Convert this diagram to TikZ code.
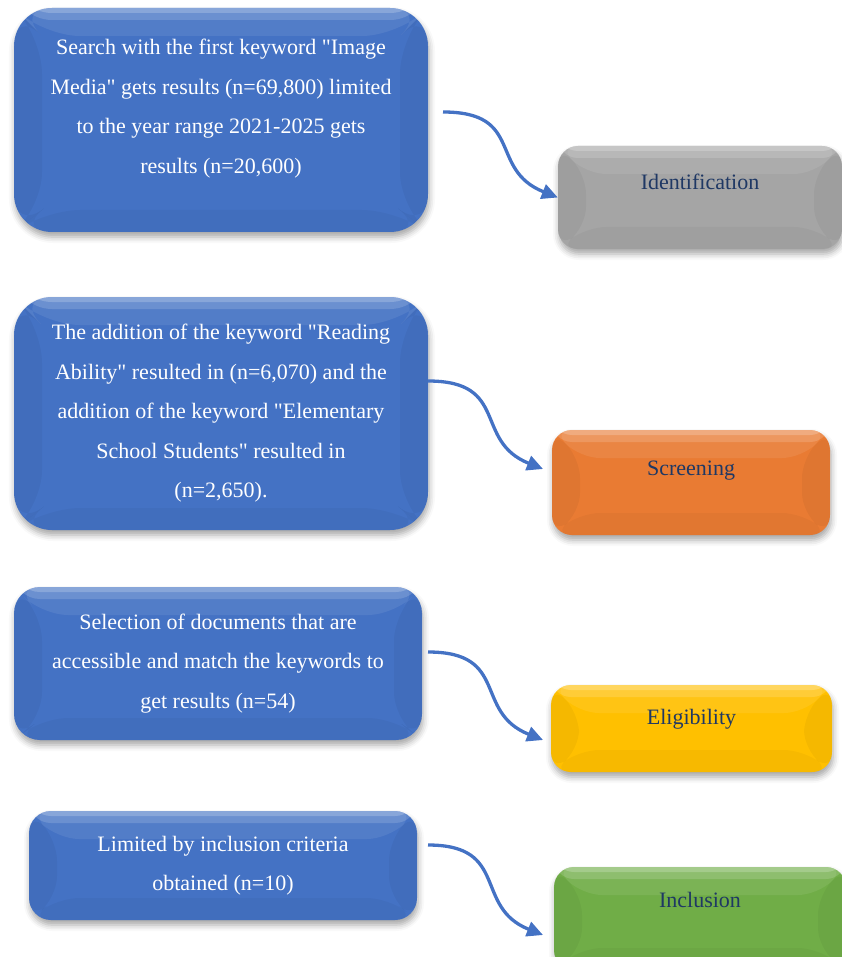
\documentclass[tikz,border=0pt]{standalone}
\usepackage{fontspec}
\setmainfont{Liberation Serif}[Ligatures=TeXOff]
\usetikzlibrary{arrows.meta,shadows.blur}

\definecolor{boxblue}{HTML}{4472C4}
\definecolor{arrowblue}{HTML}{4472C4}
\definecolor{stagegray}{HTML}{A5A5A5}
\definecolor{stageorange}{HTML}{E97B33}
\definecolor{stageyellow}{HTML}{FFC000}
\definecolor{stagegreen}{HTML}{70AD47}
\definecolor{labelnavy}{HTML}{1F3864}

\tikzset{
  bevel/.style={path picture={
      \coordinate (nw) at (path picture bounding box.north west);
      \coordinate (ne) at (path picture bounding box.north east);
      \coordinate (sw) at (path picture bounding box.south west);
      \coordinate (se) at (path picture bounding box.south east);
      \fill[white,opacity=.08] (nw) -- ([shift={(28pt,-28pt)}]nw) -- ([shift={(-28pt,-28pt)}]ne) -- (ne) -- cycle;
      \fill[black,opacity=.03] (sw) -- ([shift={(28pt,22pt)}]sw) -- ([shift={(-28pt,22pt)}]se) -- (se) -- cycle;
      \fill[black,opacity=.04] (nw) -- ([shift={(28pt,-28pt)}]nw) -- ([shift={(28pt,22pt)}]sw) -- (sw) -- cycle;
      \fill[black,opacity=.04] (ne) -- ([shift={(-28pt,-28pt)}]ne) -- ([shift={(-28pt,22pt)}]se) -- (se) -- cycle;
      \fill[white,opacity=.15] (nw) rectangle ([yshift=-12pt]ne);
      \fill[white,opacity=.2] (nw) rectangle ([yshift=-5pt]ne);
    }},
  softshadow/.style={blur shadow={shadow xshift=1pt, shadow yshift=-5pt,
      shadow blur radius=6pt, shadow opacity=35}},
  searchbox/.style={fill=boxblue, text=white, align=center, inner sep=0pt,
      softshadow, bevel},
  stagebox/.style={rounded corners=20pt, text=labelnavy, inner sep=0pt,
      softshadow, bevel},
  flowarrow/.style={draw=arrowblue, line width=3.3pt,
      -{Triangle[length=16pt,width=15pt]}},
}

\begin{document}
\begin{tikzpicture}[x=1pt, y=-1pt, font=\fontsize{22}{39.5}\selectfont]
  \useasboundingbox (0,0) rectangle (842,957);

  % search steps
  \node[searchbox, rounded corners=38pt, minimum width=414pt, minimum height=224pt]
    (search) at (221,120)
    {Search with the first keyword "Image\\
     Media" gets results (n=69,800) limited\\
     to the year range 2021-2025 gets\\
     results (n=20,600)\rule[-27pt]{0pt}{1pt}};
  \node[searchbox, rounded corners=38pt, minimum width=414pt, minimum height=233pt]
    (addition) at (221,413.5)
    {The addition of the keyword "Reading\\
     Ability" resulted in (n=6,070) and the\\
     addition of the keyword "Elementary\\
     School Students" resulted in\\
     (n=2,650).};
  \node[searchbox, rounded corners=26pt, minimum width=408pt, minimum height=153pt]
    (selection) at (218,663.5)
    {Selection of documents that are\\
     accessible and match the keywords to\\
     get results (n=54)};
  \node[searchbox, rounded corners=22pt, minimum width=388pt, minimum height=109pt]
    (limited) at (223,865.5)
    {Limited by inclusion criteria\\
     obtained (n=10)};

  % stages
  \node[stagebox, fill=stagegray, minimum width=284pt, text height=44pt, text depth=59pt]
    (ident) at (700,197.5) {Identification};
  \node[stagebox, fill=stageorange, minimum width=278pt, text height=45pt, text depth=60pt]
    (screen) at (691,482.5) {Screening};
  \node[stagebox, fill=stageyellow, minimum width=281pt, text height=39pt, text depth=48pt]
    (elig) at (691.5,728.5) {Eligibility};
  \node[stagebox, fill=stagegreen, minimum width=292pt, text height=40pt, text depth=63pt]
    (incl) at (700,918.5) {Inclusion};

  % connectors
  \coordinate (from1) at (443,112);
  \coordinate (from2) at (428,381);
  \coordinate (from3) at (428,652);
  \coordinate (from4) at (428,845);
  \coordinate (to2) at (543,469);
  \coordinate (to3) at (543,740);
  \coordinate (to4) at (543,935);
  \draw[flowarrow] (from1) .. controls +(82,0) and +(-70,-28) .. (ident.west);
  \draw[flowarrow] (from2) .. controls +(82,0) and +(-70,-28) .. (to2);
  \draw[flowarrow] (from3) .. controls +(82,0) and +(-70,-28) .. (to3);
  \draw[flowarrow] (from4) .. controls +(82,0) and +(-70,-28) .. (to4);
\end{tikzpicture}
\end{document}
